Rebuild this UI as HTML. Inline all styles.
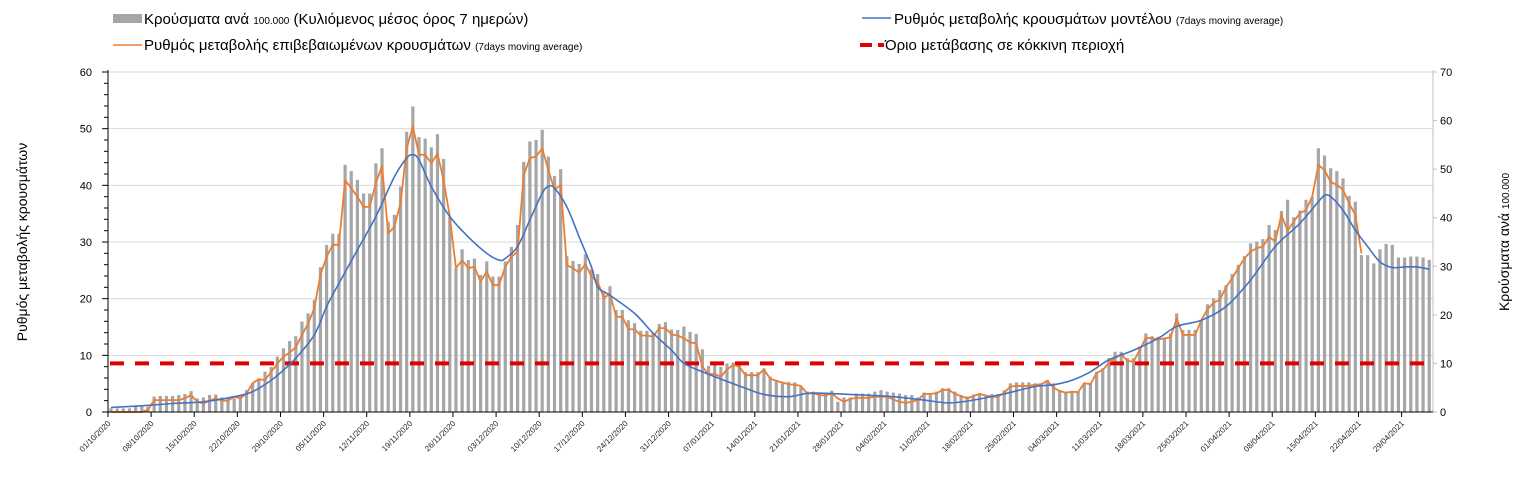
<!DOCTYPE html>
<html><head><meta charset="utf-8"><style>
body{margin:0;background:#fff;width:1525px;height:494px;overflow:hidden;font-family:"Liberation Sans","DejaVu Sans",sans-serif;}
svg text{font-family:"Liberation Sans","DejaVu Sans",sans-serif;}
</style></head><body>
<svg id="c" width="1525" height="494" xmlns="http://www.w3.org/2000/svg">
<g>
 <g>
  <rect x="113" y="14" width="29" height="9" fill="#a6a6a6"/>
  <text x="144" y="24" font-size="15" fill="#000">Κρούσματα ανά <tspan font-size="10">100.000</tspan> (Κυλιόμενος μέσος όρος 7 ημερών)</text>
 </g>
 <g>
  <line x1="113" y1="45" x2="142" y2="45" stroke="#ed7d31" stroke-width="1.5"/>
  <text x="144" y="50" font-size="15" fill="#000">Ρυθμός μεταβολής επιβεβαιωμένων κρουσμάτων <tspan font-size="10">(7days moving average)</tspan></text>
 </g>
 <g>
  <line x1="862" y1="18" x2="891" y2="18" stroke="#4472c4" stroke-width="1.5"/>
  <text x="894" y="24" font-size="15" fill="#000">Ρυθμός μεταβολής κρουσμάτων μοντέλου <tspan font-size="10">(7days moving average)</tspan></text>
 </g>
 <g>
  <line x1="860" y1="45" x2="884" y2="45" stroke="#e00000" stroke-width="4" stroke-dasharray="12,6"/>
  <text x="885" y="50" font-size="15" fill="#000">Όριο μετάβασης σε κόκκινη περιοχή</text>
 </g>
</g>
<text transform="translate(27,242) rotate(-90)" text-anchor="middle" font-size="14" fill="#000">Ρυθμός μεταβολής κρουσμάτων</text>
<text transform="translate(1509,242) rotate(-90)" text-anchor="middle" font-size="14" fill="#000">Κρούσματα ανά <tspan font-size="10">100.000</tspan></text>
<g id="grid"></g>
<g id="bars"></g>
<g id="lines"></g>
<g id="axes"></g>
</svg>
<script>
const barVals=[0.75,0.75,0.75,0.75,1.1,1.1,1.1,
3.2,3.3,3.3,3.3,3.5,3.7,4.3,
2.8,3.0,3.5,3.6,3.0,2.8,2.8,
3.5,4.5,5.9,6.9,8.3,9.3,11.4,
13.1,14.6,15.6,18.6,20.3,23.1,29.8,
34.4,36.7,36.7,50.9,49.6,47.8,45.0,
45.0,51.2,54.3,39.2,40.6,46.4,57.7,
62.9,56.6,56.3,54.5,57.2,52.1,40.2,
29.6,33.5,31.3,31.6,28.2,31.0,27.9,
27.9,31.0,34.0,38.5,51.5,55.7,56.0,
58.1,52.6,48.6,50.0,
32.1,31.1,30.5,32.5,29.4,28.4,24.8,25.9,21.0,21.0,
18.9,18.3,16.7,16.7,16.2,18.1,18.5,17.0,16.9,17.6,
16.5,16.1,12.9,9.5,9.7,9.3,10.0,10.2,9.8,8.2,
8.2,8.2,9.0,7.3,6.6,6.2,6.2,6.1,5.2,4.2,
4.2,3.8,4.0,4.4,2.1,3.0,3.0,3.8,3.8,3.8,
4.2,4.5,4.2,4.0,3.8,3.5,3.5,3.0,
4.0,3.8,4.2,4.9,4.9,4.2,3.5,3.2,3.6,3.5,
3.5,3.7,3.7,4.5,5.9,6.1,6.1,6.1,5.9,5.9,
6.6,5.9,4.5,4.2,4.2,4.2,5.9,6.0,8.3,9.0,
11.1,12.4,12.4,11.1,11.1,13.5,16.2,15.6,15.5,15.2,
16.2,20.3,16.9,16.9,16.9,18.9,22.2,23.4,25.1,
26.1,28.4,30.3,32.1,34.7,35.1,35.6,38.5,37.5,41.4,
43.7,40.1,41.5,43.7,44.3,54.3,52.8,50.2,49.6,48.1,
44.5,43.3,32.3,32.3,30.6,33.5,34.6,34.4,31.8,31.8,
32.0,32.0,31.8,31.3];
const orangeVals=[0,0,0,0,0,0,0.4,
2.1,2.1,2.1,2.1,2.1,2.4,3.0,
1.8,1.5,2.0,2.4,2.0,2.0,2.7,
2.4,3.3,5.1,5.8,5.6,7.1,8.5,9.8,10.5,11.4,13.6,15.6,18.3,24.2,
27.4,29.5,29.5,40.9,39.5,38.0,36.2,36.2,40.4,43.4,
31.5,32.7,36.8,46.5,50.4,45.4,45.4,43.9,45.6,40.9,
34.5,25.4,26.8,25.4,25.6,23.0,24.8,22.4,22.4,25.6,
27.4,28.3,41.8,44.8,45.1,46.5,42.7,39.2,40.1,
25.9,25.4,24.6,26.1,23.9,23.0,20.1,20.9,16.8,16.8,
14.6,14.6,13.5,13.5,13.3,14.8,14.8,13.7,13.5,13.0,
12.3,12.1,8.0,6.7,6.7,6.2,7.5,8.3,8.0,6.5,
6.5,6.5,7.5,5.9,5.5,5.2,4.9,4.8,4.6,3.3,
3.3,3.0,2.9,3.3,2.4,1.8,2.3,2.5,2.5,2.5,
2.7,2.7,2.7,2.2,1.8,1.6,1.8,2.1,
3.2,3.2,3.3,3.9,3.9,3.2,2.8,2.4,2.8,3.2,
2.9,2.7,2.7,3.4,4.5,4.6,4.6,4.6,4.8,4.9,
5.5,4.3,3.7,3.4,3.6,3.5,5.1,4.9,6.9,7.4,
8.7,9.5,10.2,9.0,8.9,10.9,13.1,
13.0,12.8,13.0,13.2,16.5,13.6,13.6,13.6,16.2,18.1,
19.3,19.8,22.0,23.6,25.4,27.1,28.3,28.9,29.2,30.9,
30.1,34.8,32.0,33.6,35.1,35.6,38.0,43.6,42.7,40.6,
40.1,39.2,36.8,34.8,28.0];
const blueDays=[0,5,10,15,20,23,26,28,30,33,35,37,40,43,46,48,49,50,52,55,58,61,63,64,66,68,70,71,72,74,76,78,79,81,85,88,91,93,96,100,103,106,110,113,116,122,127,132,136,140,145,150,153,156,159,162,166,170,173,177,181,185,189,193,196,197,198,200,202,204,206,208,210,212,214];
const blueVals=[0.8,1.1,1.5,1.8,2.7,3.6,5.6,7.4,9.5,13.6,18.6,22.7,28.6,34.5,41.5,44.8,45.4,44.5,39.8,34.5,30.9,28.0,26.8,27.1,29.2,33.9,38.6,39.8,39.5,36.2,30.9,25.6,22.1,20.6,17.4,13.9,10.9,8.6,7.1,5.4,4.2,3.1,2.7,3.3,3.3,3.0,2.7,2.1,1.6,2.1,3.2,4.5,4.8,5.6,7.1,9.2,10.9,13.0,15.1,16.2,18.6,23.3,29.2,33.3,37.1,38.2,38.0,35.6,32.1,29.2,26.5,25.5,25.6,25.6,25.2];
const thresholdVal=10;
const leftTicks=[0,10,20,30,40,50,60];
const rightTicks=[0,10,20,30,40,50,60,70];
const xLabels=["01/10/2020","08/10/2020","15/10/2020","22/10/2020","29/10/2020","05/11/2020","12/11/2020","19/11/2020","26/11/2020","03/12/2020","10/12/2020","17/12/2020","24/12/2020","31/12/2020","07/01/2021","14/01/2021","21/01/2021","28/01/2021","04/02/2021","11/02/2021","18/02/2021","25/02/2021","04/03/2021","11/03/2021","18/03/2021","25/03/2021","01/04/2021","08/04/2021","15/04/2021","22/04/2021","29/04/2021"];

const NS="http://www.w3.org/2000/svg";
const X0=108,X1=1433,Y0=412,YT=72,DAY=6.16;
const xDay=d=>111+DAY*d;
const yL=v=>Y0-(v/60)*(Y0-YT);
const yR=v=>Y0-(v/70)*(Y0-YT);
function mk(tag,attrs,parent){const e=document.createElementNS(NS,tag);for(const k in attrs)e.setAttribute(k,attrs[k]);parent.appendChild(e);return e;}
const grid=document.getElementById('grid'),bars=document.getElementById('bars'),lines=document.getElementById('lines'),axes=document.getElementById('axes');
leftTicks.forEach(t=>{if(t>0){const g=mk('line',{x1:X0,x2:X1,y1:yL(t),y2:yL(t),stroke:'#d9d9d9','stroke-width':1},grid);

}});
barVals.forEach((v,i)=>{const r=mk('rect',{x:xDay(i)-1.6,y:yR(v),width:3.2,height:Y0-yR(v),fill:'#a6a6a6'},bars);

});
// threshold
const th=mk('line',{x1:X0+2,x2:X1,y1:yR(thresholdVal),y2:yR(thresholdVal),stroke:'#e00000','stroke-width':4,'stroke-dasharray':'14,11'},lines);


// orange
const op=mk('polyline',{points:orangeVals.map((v,i)=>xDay(i)+','+yL(v)).join(' '),fill:'none',stroke:'#ed7d31','stroke-width':1.8,'stroke-linejoin':'round'},lines);


// blue smooth (catmull-rom)
const pts=blueDays.map((d,i)=>[xDay(d),yL(blueVals[i])]);
let dstr='M'+pts[0][0]+','+pts[0][1];
for(let i=0;i<pts.length-1;i++){const p0=pts[Math.max(0,i-1)],p1=pts[i],p2=pts[i+1],p3=pts[Math.min(pts.length-1,i+2)];
const c1=[p1[0]+(p2[0]-p0[0])/6,p1[1]+(p2[1]-p0[1])/6],c2=[p2[0]-(p3[0]-p1[0])/6,p2[1]-(p3[1]-p1[1])/6];
dstr+=' C'+c1[0]+','+c1[1]+' '+c2[0]+','+c2[1]+' '+p2[0]+','+p2[1];}
const bp=mk('path',{d:dstr,fill:'none',stroke:'#4472c4','stroke-width':1.6},lines);


// axes
mk('line',{x1:X0,x2:X0,y1:YT-2,y2:Y0,stroke:'#000','stroke-width':1},axes);
mk('line',{x1:X1,x2:X1,y1:YT-2,y2:Y0,stroke:'#bfbfbf','stroke-width':1},axes);
mk('line',{x1:X0,x2:X1,y1:Y0,y2:Y0,stroke:'#000','stroke-width':1},axes);
for(let v=0;v<=60;v+=2){mk('line',{x1:X0-(v%10===0?6:4),x2:X0,y1:yL(v),y2:yL(v),stroke:'#000','stroke-width':1},axes);}
leftTicks.forEach(t=>{const e=mk('text',{x:X0-16,y:yL(t)+4,'text-anchor':'end','font-size':11,fill:'#000'},axes);e.textContent=t;

});
rightTicks.forEach(t=>{mk('line',{x1:X1,x2:X1+4,y1:yR(t),y2:yR(t),stroke:'#bfbfbf'},axes);
const e=mk('text',{x:X1+7,y:yR(t)+4,'font-size':11,fill:'#000'},axes);e.textContent=t;

});
xLabels.forEach((l,i)=>{const x=X0+DAY*7*i;mk('line',{x1:x,x2:x,y1:Y0,y2:Y0+5,stroke:'#000'},axes);
const e=mk('text',{x:0,y:0,'text-anchor':'end','font-size':8,fill:'#222',transform:'translate('+(x+3)+','+(Y0+12)+') rotate(-45)'},axes);e.textContent=l;

});
</script>
</body></html>
